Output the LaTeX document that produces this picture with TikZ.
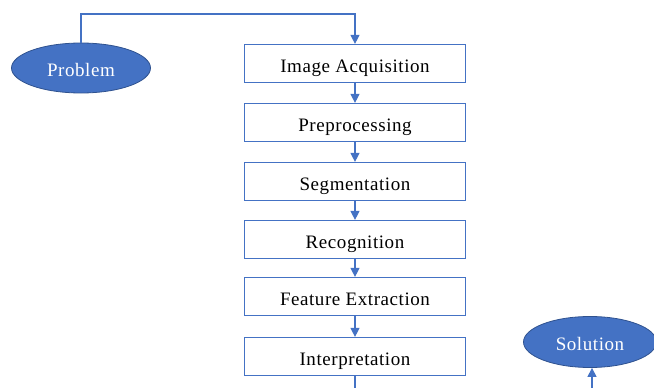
\documentclass[tikz,border=0pt]{standalone}
\usepackage{fontspec}
\setmainfont{Liberation Serif}[LetterSpace=3]
\usetikzlibrary{arrows.meta,shapes.geometric}
\definecolor{lnblue}{HTML}{4472C4}
\definecolor{edgeblue}{HTML}{2F528F}
\begin{document}
\begin{tikzpicture}[x=1pt,y=-1pt,
  stepbox/.style={draw=lnblue,line width=1.2pt,fill=white,rectangle,minimum width=221pt,minimum height=38pt,inner sep=0pt,text height=17pt,text depth=0pt,font=\fontsize{19}{21}\selectfont},
  oval/.style={ellipse,draw=edgeblue,line width=0.8pt,fill=lnblue,text=white,inner sep=0pt,text height=17pt,text depth=0pt,font=\fontsize{19}{21}\selectfont},
  conn/.style={draw=lnblue,line width=1.2pt},
  arr/.style={conn,-{Triangle[length=9pt,width=9pt]}}]
\useasboundingbox (0,0) rectangle (654,388);
\node[oval,minimum width=139pt,minimum height=50pt] (prob) at (81,68) {Problem};
\node[oval,minimum width=133pt,minimum height=51pt] (sol) at (590,342) {Solution};
\node[stepbox] (ia) at (355,63.5) {Image Acquisition};
\node[stepbox] (pp) at (355,122.5) {Preprocessing};
\node[stepbox] (sg) at (355,181.5) {Segmentation};
\node[stepbox] (rc) at (355,239.5) {Recognition};
\node[stepbox] (fe) at (355,296.5) {Feature Extraction};
\node[stepbox] (in) at (355,356.5) {Interpretation};
\coordinate (top) at (355,14);
\coordinate (bot) at (355,390);
\coordinate (solin) at (592,390);
\draw[arr] (prob.north) |- (top) -- (ia.north);
\draw[arr] (ia) -- (pp);
\draw[arr] (pp) -- (sg);
\draw[arr] (sg) -- (rc);
\draw[arr] (rc) -- (fe);
\draw[arr] (fe) -- (in);
\draw[conn] (in) -- (bot);
\draw[arr] (solin) -- (sol.south -| solin);
\end{tikzpicture}
\end{document}
